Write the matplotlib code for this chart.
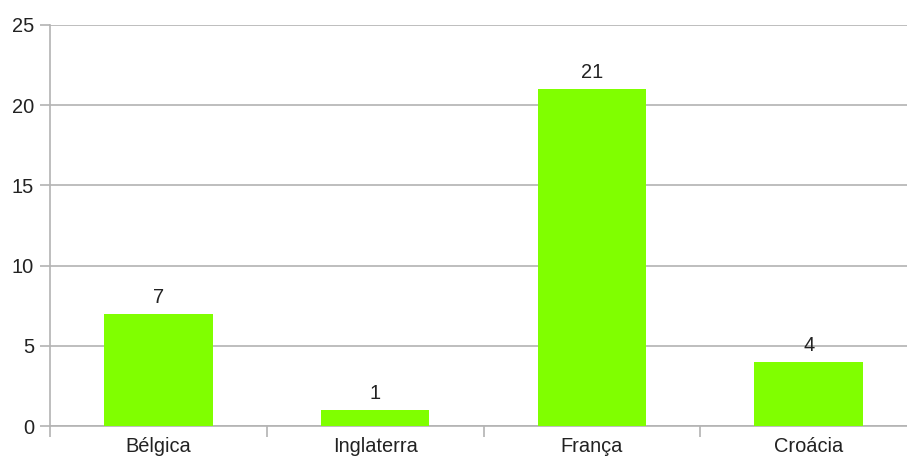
import matplotlib
matplotlib.use('Agg')
from matplotlib import pyplot as plt
from matplotlib import rcParams

paises = ['Bélgica', 'Inglaterra', 'França', 'Croácia']
valores = [7, 1, 21, 4]
y_ticks = [0, 5, 10, 15, 20, 25]

rcParams['font.family'] = ['Liberation Sans', 'DejaVu Sans']
rcParams['font.size'] = 14.4

grid_color = '#b3b3b3'
bar_color = '#80ff00'
text_color = '#222222'

fig = plt.figure(figsize=(9.07, 4.63), dpi=100)
ax = fig.add_axes([50 / 907, 37 / 463, 867 / 907, 401 / 463])

x = range(len(paises))
bars = ax.bar(x, valores, width=0.5, color=bar_color, zorder=3)
for b, v in zip(bars, valores):
    ax.annotate(str(v), (b.get_x() + b.get_width() / 2, v), xytext=(0, 5),
                textcoords='offset points', ha='center', va='bottom',
                color=text_color)

ax.set_xlim(-0.5, len(paises) - 0.5)
ax.set_ylim(0, 25)
ax.set_yticks(y_ticks)
ax.yaxis.grid(True, color=grid_color, linewidth=1.2, zorder=0)
ax.set_axisbelow(True)

# category ticks sit on the borders between categories
ax.set_xticks([i - 0.5 for i in range(len(paises))])
ax.set_xticklabels([])
ax.set_xticks(list(x), minor=True)
ax.set_xticklabels(paises, minor=True)
ax.tick_params(axis='x', which='major', length=8, width=1.2, color=grid_color)
ax.tick_params(axis='x', which='minor', length=0, pad=8, labelcolor=text_color)
ax.tick_params(axis='y', length=7.2, width=1.2, color=grid_color, pad=4.3,
               labelcolor=text_color)

for s in ['top', 'right']:
    ax.spines[s].set_visible(False)
for s in ['left', 'bottom']:
    ax.spines[s].set_color(grid_color)
    ax.spines[s].set_linewidth(1.2)

plt.savefig('out.png', dpi=100)
